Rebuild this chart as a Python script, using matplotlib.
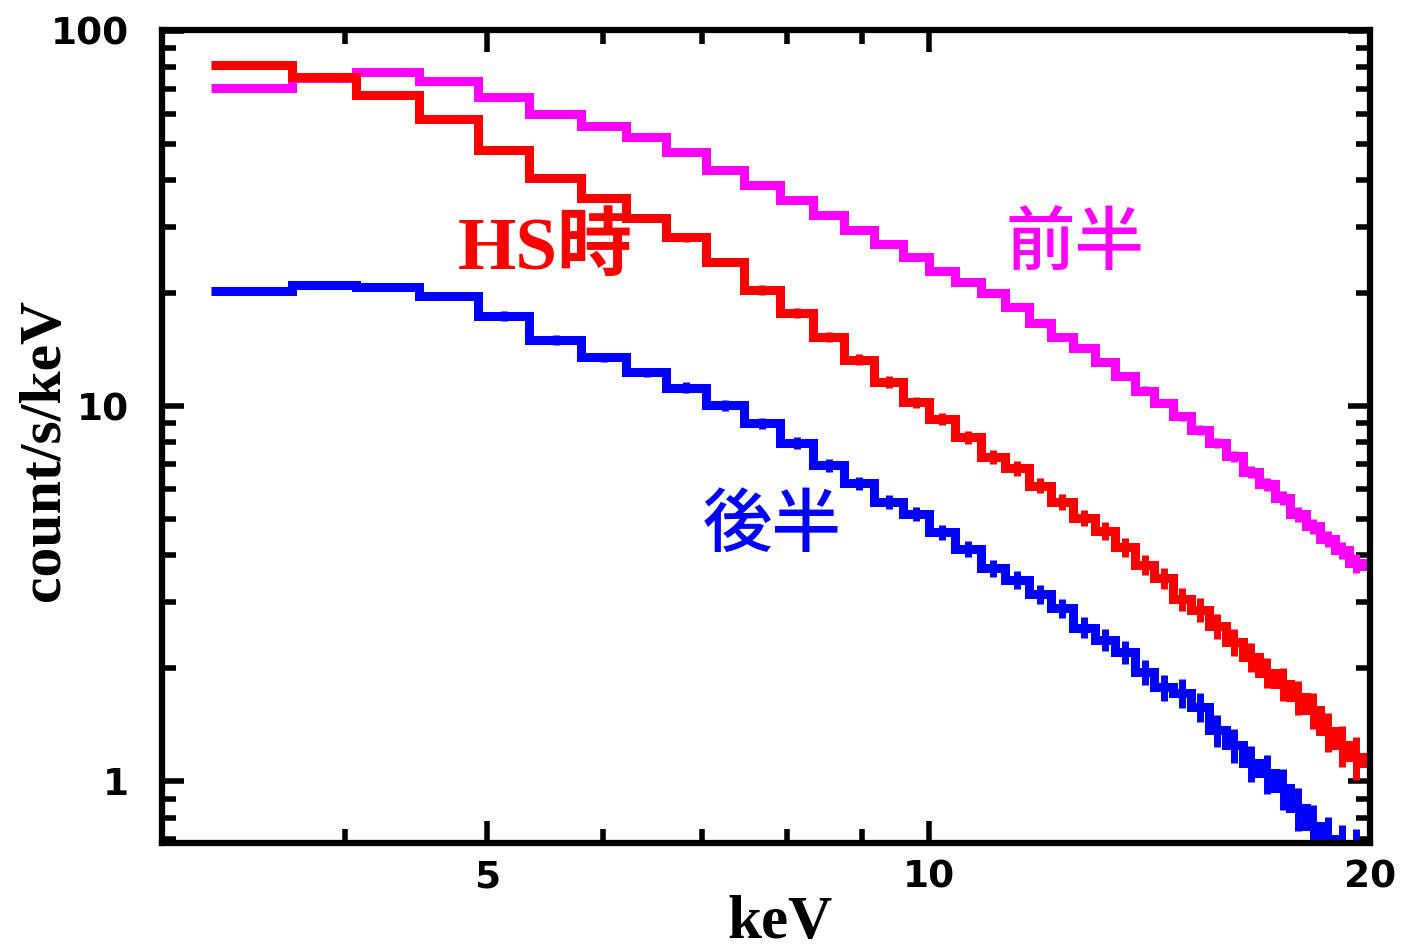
import matplotlib
matplotlib.use("Agg")
import matplotlib.pyplot as plt
import numpy as np
from matplotlib.ticker import FixedLocator, NullFormatter

# bin edges in keV (shared by all three spectra)
edges = [3.24, 3.68, 4.07, 4.49, 4.93, 5.34, 5.79, 6.22, 6.62, 7.05,
         7.48, 7.92, 8.34, 8.75, 9.18, 9.6, 10.0, 10.425, 10.85, 11.275,
         11.7, 12.125, 12.55, 12.975, 13.4, 13.825, 14.25, 14.675, 15.1, 15.525,
         15.95, 16.375, 16.8, 17.225, 17.65, 18.075, 18.5, 18.925, 19.35, 19.775,
         20.2]

# count/s/keV per bin
hs = [81, 75.4, 67.5, 58.3, 48.2, 40.5, 35.9, 31.7, 28.2, 24.2,
      20.4, 17.7, 15.3, 13.3, 11.6, 10.25, 9.23, 8.27, 7.31, 6.83,
      6.14, 5.55, 5.04, 4.65, 4.2, 3.78, 3.48, 3.06, 2.87, 2.6,
      2.35, 2.15, 1.95, 1.82, 1.68, 1.55, 1.36, 1.25, 1.16, 1.12]

first_half = [70.5, 75, 77.8, 73.6, 66.7, 60.0, 55.8, 52.2, 47.6, 42.6,
              38.8, 35.4, 32.3, 29.5, 27.0, 25.0, 22.9, 21.4, 20.0, 18.4,
              16.7, 15.3, 14.3, 13.1, 12.0, 11.0, 10.2, 9.4, 8.63, 7.97,
              7.36, 6.67, 6.2, 5.69, 5.15, 4.79, 4.42, 4.13, 3.81, 3.75]

second_half = [20.3, 21.0, 20.8, 19.6, 17.4, 15.0, 13.5, 12.3, 11.2, 10.06,
               9.0, 7.97, 6.96, 6.23, 5.55, 5.15, 4.61, 4.16, 3.70, 3.44,
               3.15, 2.89, 2.57, 2.38, 2.21, 1.96, 1.78, 1.72, 1.58, 1.37,
               1.25, 1.12, 1.05, 0.96, 0.85, 0.76, 0.70, 0.66, 0.64, 0.62]

# relative 1-sigma errors per bin
rel_err = [0.010, 0.010, 0.010, 0.010, 0.012, 0.012, 0.012, 0.012, 0.014, 0.014,
           0.015, 0.015, 0.016, 0.017, 0.018, 0.018, 0.020, 0.021, 0.022, 0.023,
           0.024, 0.025, 0.027, 0.028, 0.030, 0.032, 0.034, 0.036, 0.038, 0.040,
           0.043, 0.046, 0.049, 0.052, 0.055, 0.058, 0.062, 0.066, 0.070, 0.075]

x_ticks = [5, 10, 20]
x_minor = [3, 4, 6, 7, 8, 9]
y_ticks = [1, 10, 100]

fig = plt.figure(figsize=(14.02, 9.5), dpi=100)
ax = fig.add_axes([0.1156, 0.1126, 0.8616, 0.8558])

e = np.array(edges)
centers = 0.5 * (e[:-1] + e[1:])
err = np.array(rel_err)

# (values, colour, error scale)
series = [(second_half, "#0000ff", 2.4), (first_half, "#ff00ff", 0.8), (hs, "#ff0000", 1.9)]
for vals, col, k in series:
    v = np.array(vals)
    ax.stairs(v, e, baseline=None, color=col, linewidth=6.5)
    ax.errorbar(centers, v, yerr=v * err * k, fmt="none", ecolor=col,
                elinewidth=5, capsize=0)

ax.set_xscale("log")
ax.set_yscale("log")
ax.set_xlim(3, 20)
ax.set_ylim(0.685, 100.5)

ax.xaxis.set_major_locator(FixedLocator(x_ticks))
ax.xaxis.set_minor_locator(FixedLocator(x_minor))
ax.set_xticklabels([str(t) for t in x_ticks])
ax.xaxis.set_minor_formatter(NullFormatter())
ax.yaxis.set_major_locator(FixedLocator(y_ticks))
ax.set_yticklabels([str(t) for t in y_ticks])
ax.yaxis.set_minor_formatter(NullFormatter())

for s in ax.spines.values():
    s.set_linewidth(4.5)
ax.tick_params(which="both", direction="in", top=True, right=True)
ax.tick_params(which="major", length=16, width=4)
ax.tick_params(which="minor", length=10, width=4)
ax.tick_params(axis="x", which="major", pad=12)
ax.tick_params(axis="y", which="major", pad=24)
for lab in ax.get_xticklabels() + ax.get_yticklabels():
    lab.set_fontsize(27)
    lab.set_fontweight("heavy")
    lab.set_family("DejaVu Sans")

serif = ["Liberation Serif", "DejaVu Serif"]
fig.text(0.556, 0.028, "keV", ha="center", va="center", fontsize=44,
         fontweight="bold", family=serif)
fig.text(0.032, 0.526, "count/s/keV", ha="center", va="center", fontsize=43,
         fontweight="bold", family=serif, rotation=90)

fig.text(0.389, 0.737, "HS時", ha="center", va="center", fontsize=54,
         fontweight="bold", color="#ff0000",
         family=["Liberation Serif", "Noto Sans CJK JP"])
fig.text(0.767, 0.742, "前半", ha="center", va="center", fontsize=50,
         fontweight="medium", color="#ff00ff", family=["Noto Sans CJK JP"])
fig.text(0.551, 0.446, "後半", ha="center", va="center", fontsize=50,
         fontweight="medium", color="#0000ff", family=["Noto Sans CJK JP"])

fig.savefig("out.png", dpi=100)
